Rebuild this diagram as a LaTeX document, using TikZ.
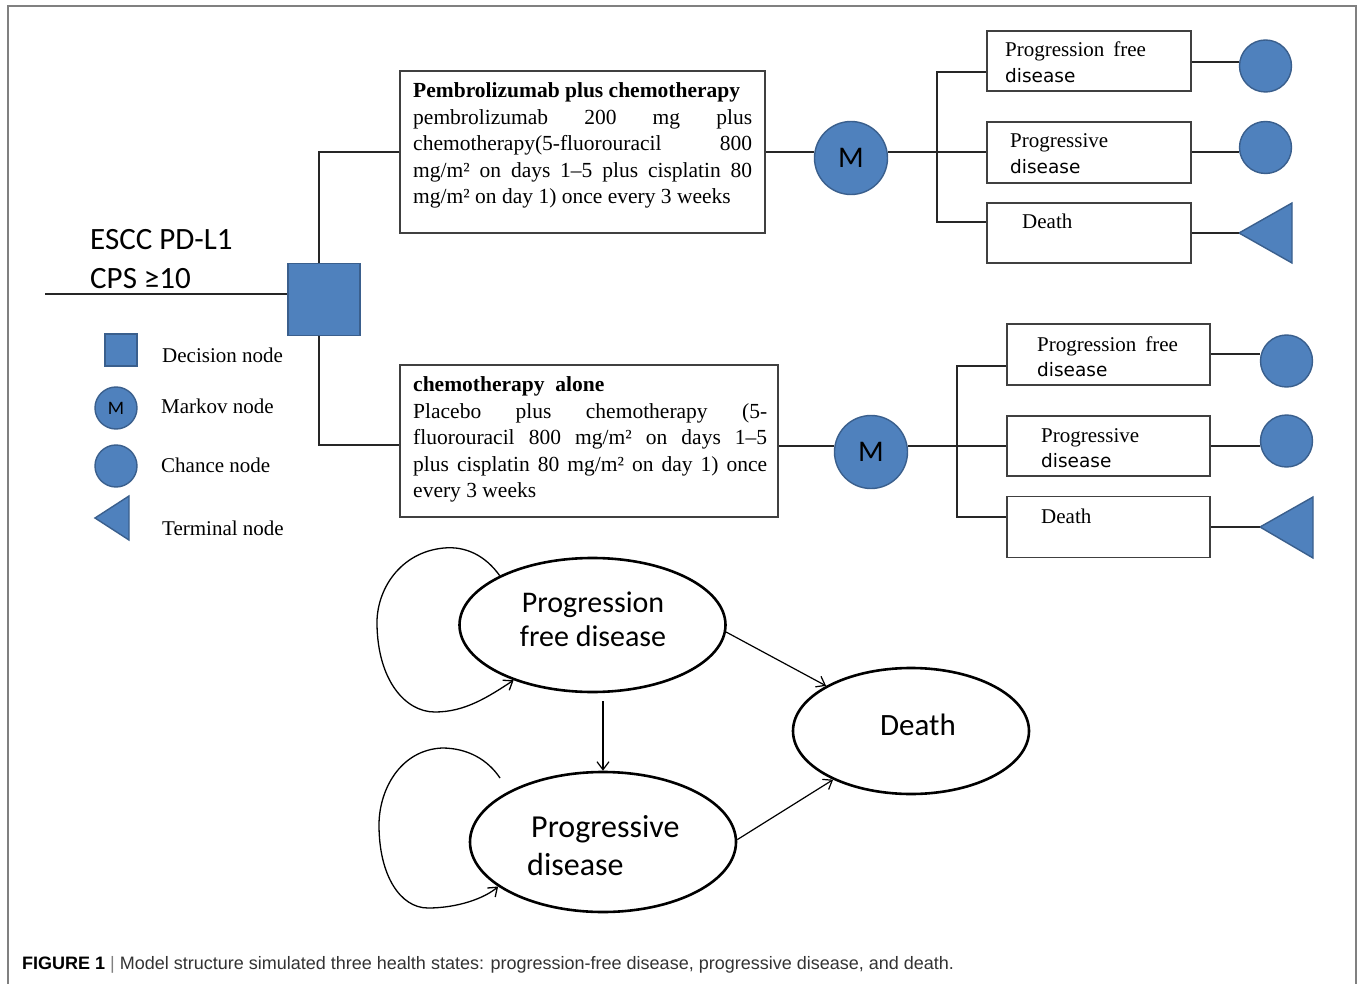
\documentclass[tikz,border=0pt]{standalone}
\usepackage{fontspec}
\setmainfont{Liberation Serif}
\newfontfamily\calfont{Carlito}
\newfontfamily\dvfont{DejaVu Sans}
\newfontfamily\capfont{Liberation Sans}
\usetikzlibrary{shapes.geometric,arrows.meta}
\definecolor{nodeblue}{HTML}{4F81BD}
\definecolor{nodeedge}{HTML}{3A5F8D}
\definecolor{boxgray}{HTML}{404040}
\definecolor{framegray}{HTML}{808080}
\definecolor{capgray}{HTML}{333333}
\newcommand{\jline}[2]{\makebox[#1][s]{#2}}
\begin{document}
\begin{tikzpicture}[x=1pt,y=-1pt,
  box/.style={draw=boxgray,line width=1.5pt,rectangle,inner sep=0pt},
  conn/.style={line width=1.5pt,draw=black!85},
  bnode/.style={fill=nodeblue,draw=nodeedge,line width=1.4pt},
  chance/.style={bnode,circle,inner sep=0pt,minimum size=#1},
  sq/.style={bnode,rectangle,inner sep=0pt,minimum size=#1},
  mk/.style={bnode,circle,inner sep=0pt,minimum size=73pt,font=\calfont\fontsize{30}{30}\selectfont},
  state/.style={ellipse,draw=black,line width=2.6pt,inner sep=0pt},
  arr/.style={-{Straight Barb[length=8pt,width=12pt]},line width=1.2pt},
  loop/.style={-{Straight Barb[length=8pt,width=12pt]},line width=1.3pt},
  btext/.style={inner sep=0pt,anchor=north west,align=left,font=\fontsize{21.5}{26.5}\selectfont},
  ser/.style={inner sep=0pt,anchor=base west,font=\fontsize{21}{21}\selectfont},
  dv/.style={inner sep=0pt,anchor=base west,font=\dvfont\fontsize{18.5}{18.5}\selectfont},
  cal/.style={inner sep=0pt,font=\calfont\fontsize{#1}{#1}\selectfont},
  leg/.style={inner sep=0pt,anchor=base west,font=\fontsize{21}{21}\selectfont}]

\fill[white] (0,0) rectangle (1360,984);
\useasboundingbox (0,0) rectangle (1360,984);
\draw[framegray,line width=2pt] (8,992) -- (8,6) -- (1356,6) -- (1356,992);

% ---------- decision tree, left ----------
\node[cal=31,anchor=base west] (escc) at (90,250) {ESCC PD-L1};
\node[cal=31,anchor=base west] (cps) at (90,289) {CPS ≥10};
\node[sq=72pt] (dec) at (324,299.5) {};
\coordinate (in0) at (45,294);
\draw[conn] (in0) -- (in0 -| dec.west);
\coordinate (ja) at (319,152);
\coordinate (jb) at (319,445);

% treatment boxes
\node[box,minimum width=365pt,minimum height=162pt] (b1) at (582.5,152) {};
\node[btext] (t1) at (413,82.5) {\textbf{Pembrolizumab plus chemotherapy}\\
  \jline{339pt}{pembrolizumab 200 mg plus}\\
  \jline{339pt}{chemotherapy(5-fluorouracil 800}\\
  \jline{339pt}{mg/m² on days 1–5 plus cisplatin 80}\\
  mg/m² on day 1) once every 3 weeks};
\node[box,minimum width=378pt,minimum height=152pt] (b2) at (589,441) {};
\node[btext] (t2) at (413,376.5) {\textbf{chemotherapy\ \ alone}\\
  \jline{354pt}{Placebo plus chemotherapy (5-}\\
  \jline{354pt}{fluorouracil 800 mg/m² on days 1–5}\\
  \jline{354pt}{plus cisplatin 80 mg/m² on day 1) once}\\
  every 3 weeks};

\draw[conn] (dec.north -| ja) -- (ja) -- (ja -| b1.west);
\draw[conn] (dec.south -| jb) -- (jb) -- (jb -| b2.west);

% ---------- upper branch ----------
\node[mk] (m1) at (851,158) {M};
\coordinate (k1) at (937,152);
\coordinate (k1a) at (937,72);
\coordinate (k1c) at (937,222);
\node[box,minimum width=204pt,minimum height=60pt] (pf1) at (1089,61) {};
\node[box,minimum width=204pt,minimum height=61pt] (pd1) at (1089,152.5) {};
\node[box,minimum width=204pt,minimum height=60pt] (de1) at (1089,233) {};
\node[ser] (pf1a) at (1005,57) {Progression\hspace{9pt}free};
\node[dv] (pf1b) at (1005,83) {disease};
\node[ser] (pd1a) at (1010,148) {Progressive};
\node[dv] (pd1b) at (1010,174) {disease};
\node[ser] (de1a) at (1022,229) {Death};
\node[chance=52pt] (c1a) at (1265.5,66) {};
\node[chance=52pt] (c1b) at (1265.5,147.5) {};
\coordinate (tri1) at (1239,233);
\filldraw[bnode] (tri1) -- ++(53,-30) -- ++(0,60) -- cycle;
\coordinate (r1a) at (1215,62);

\draw[conn] (k1 -| b1.east) -- (k1 -| m1.west);
\draw[conn] (k1 -| m1.east) -- (k1) -- (k1 -| pd1.west);
\draw[conn] (k1a -| pf1.west) -- (k1a) -- (k1c) -- (k1c -| de1.west);
\draw[conn] (r1a -| pf1.east) -- (r1a -| c1a.west);
\draw[conn] (k1 -| pd1.east) -- (k1 -| c1b.west);
\draw[conn] (tri1 -| de1.east) -- (tri1);

% ---------- lower branch ----------
\node[mk] (m2) at (871,452) {M};
\coordinate (k2) at (957,446);
\coordinate (k2a) at (957,366);
\coordinate (k2c) at (957,517);
\node[box,minimum width=203pt,minimum height=61pt] (pf2) at (1108.5,354.5) {};
\node[box,minimum width=203pt,minimum height=60pt] (pd2) at (1108.5,446) {};
\node[box,minimum width=203pt,minimum height=61pt] (de2) at (1108.5,527) {};
\node[ser] (pf2a) at (1037,352) {Progression\hspace{9pt}free};
\node[dv] (pf2b) at (1037,376) {disease};
\node[ser] (pd2a) at (1041,442) {Progressive};
\node[dv] (pd2b) at (1041,467) {disease};
\node[ser] (de2a) at (1041,523) {Death};
\node[chance=52pt] (c2a) at (1286.5,361) {};
\node[chance=52pt] (c2b) at (1286.5,441) {};
\coordinate (tri2) at (1260,527);
\filldraw[bnode] (tri2) -- ++(53,-30) -- ++(0,61) -- cycle;
\coordinate (r2a) at (1235,354);

\draw[conn] (k2 -| b2.east) -- (k2 -| m2.west);
\draw[conn] (k2 -| m2.east) -- (k2) -- (k2 -| pd2.west);
\draw[conn] (k2a -| pf2.west) -- (k2a) -- (k2c) -- (k2c -| de2.west);
\draw[conn] (r2a -| pf2.east) -- (r2a -| c2a.west);
\draw[conn] (k2 -| pd2.east) -- (k2 -| c2b.west);
\draw[conn] (tri2 -| de2.east) -- (tri2);

% ---------- legend ----------
\node[sq=32pt] (lsq) at (121,350) {};
\node[leg] (lsqt) at (162,362) {Decision node};
\node[bnode,circle,inner sep=0pt,minimum size=42pt,font=\calfont\fontsize{19}{19}\selectfont] (lmk) at (116,408) {M};
\node[leg] (lmkt) at (161,413) {Markov node};
\node[chance=42pt] (lch) at (116,466) {};
\node[leg] (lcht) at (161,472) {Chance node};
\coordinate (ltri) at (95,518);
\filldraw[bnode] (ltri) -- ++(34,-22) -- ++(0,44) -- cycle;
\node[leg] (ltrit) at (162,535) {Terminal node};

% ---------- Markov state diagram ----------
\node[state,minimum width=266pt,minimum height=134pt] (pfd) at (592.5,625) {};
\node[cal=30,anchor=base] (pfdt1) at (593,612) {Progression};
\node[cal=30,anchor=base] (pfdt2) at (593,646) {free disease};
\node[state,minimum width=266pt,minimum height=140pt] (pd) at (603,842) {};
\node[cal=32,anchor=base west] (pdt1) at (531,837) {Progressive};
\node[cal=32,anchor=base west] (pdt2) at (527,875) {disease};
\node[state,minimum width=236pt,minimum height=126pt] (de) at (911,731) {};
\node[cal=31,anchor=base] (det) at (918,735) {Death};

\draw[arr] (pfd.-3) -- (de.152);
\draw[arr] (pd.1) -- (de.212);
\draw[arr] ([xshift=10.5pt,yshift=-8pt]pfd.south) -- (pd.north);
\draw[loop] (pfd.152) .. controls (485,555) and (465,546) .. (444,548)
  .. controls (400,552) and (376,590) .. (377,625)
  .. controls (378,680) and (405,712) .. (435,712)
  .. controls (465,712) and (488,697) .. (pfd.215);
\coordinate (pls) at (500,778);
\draw[loop] (pls) .. controls (488,760) and (468,748) .. (442,748)
  .. controls (400,750) and (379,790) .. (379,825)
  .. controls (379,875) and (400,908) .. (428,908)
  .. controls (458,908) and (485,898) .. (pd.203);

% ---------- caption ----------
\node[inner sep=0pt,anchor=base west,font=\capfont\fontsize{18}{18}\selectfont] (cap) at (22,969)
  {\textbf{FIGURE 1} {\color{gray}|} {\color{capgray}Model structure simulated three health states: progression-free disease, progressive disease, and death.}};
\end{tikzpicture}
\end{document}
